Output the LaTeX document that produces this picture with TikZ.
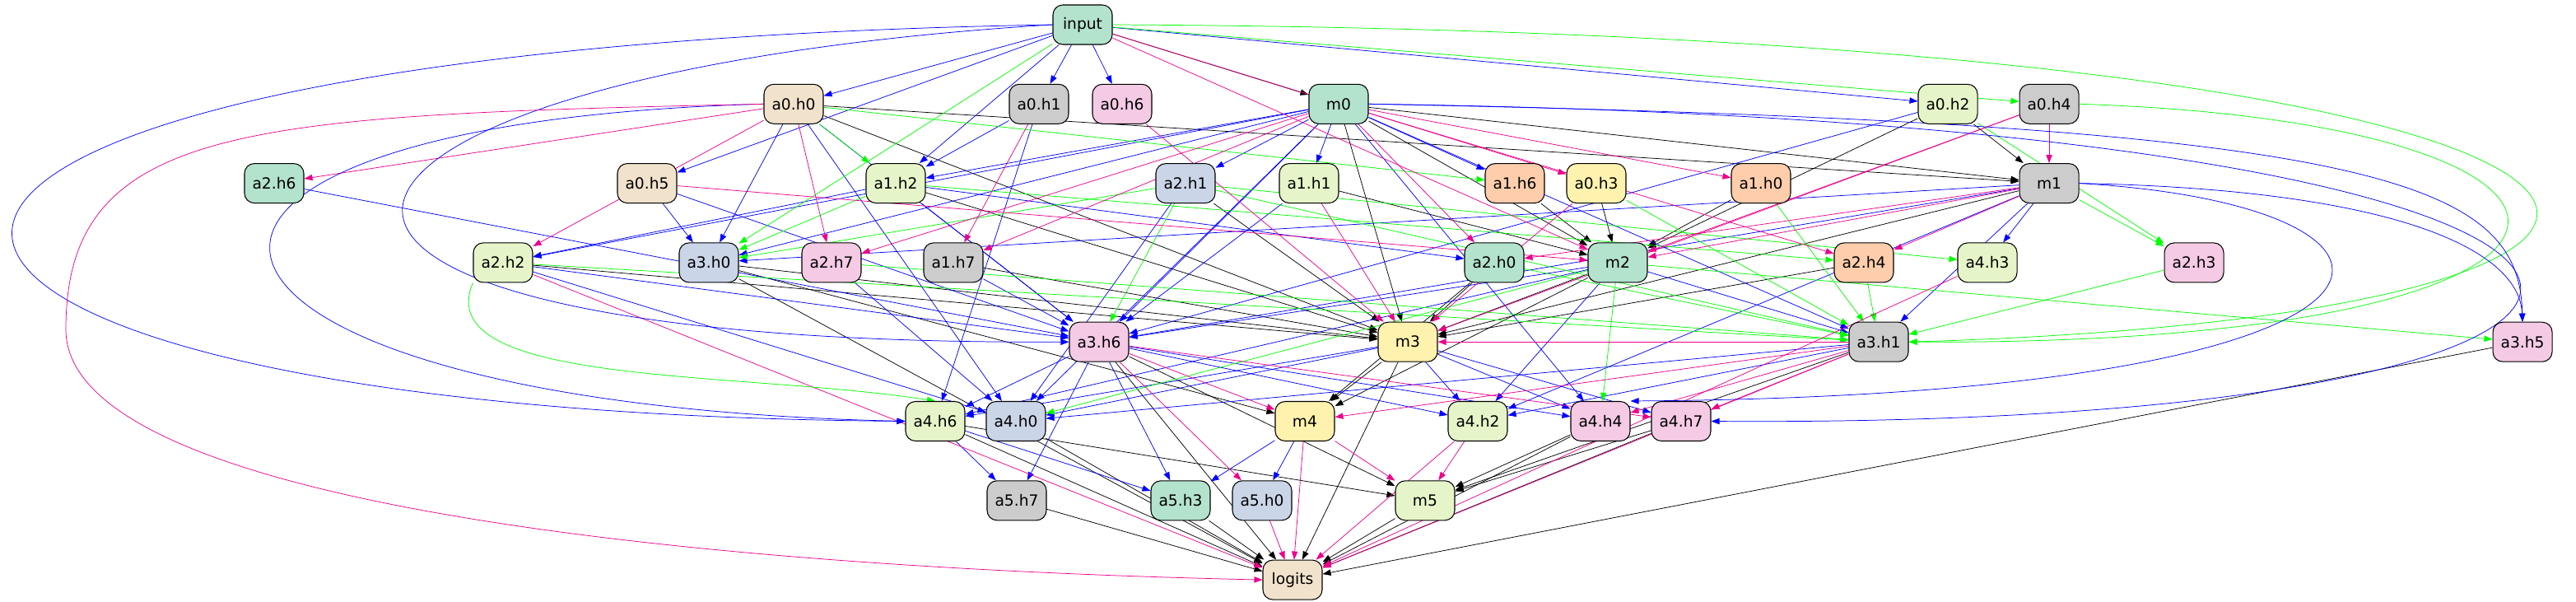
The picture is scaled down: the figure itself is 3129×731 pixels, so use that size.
\documentclass[tikz,border=0pt]{standalone}
\usepackage{fontspec}
\setmainfont{DejaVu Sans}
\usepackage{tikz}
\usetikzlibrary{arrows.meta}

\definecolor{pmint}{HTML}{B3E2CD}
\definecolor{porange}{HTML}{FDCDAC}
\definecolor{pblue}{HTML}{CBD5E8}
\definecolor{ppink}{HTML}{F4CAE4}
\definecolor{plime}{HTML}{E6F5C9}
\definecolor{pyellow}{HTML}{FFF2AE}
\definecolor{psand}{HTML}{F1E2CC}
\definecolor{pgrey}{HTML}{CCCCCC}

\pgfdeclarelayer{wires}
\pgfsetlayers{wires,main}

\begin{document}
\begin{tikzpicture}[x=0.75pt, y=-0.75pt, >={Triangle[length=7.5pt,width=5.5pt]},
        box/.style={draw, line width=0.8pt, rounded corners=9pt, minimum width=54pt,
            minimum height=36pt, inner sep=0pt, font=\fontsize{14}{16}\selectfont},
        wire/.style={->, line width=0.55pt}]
        \useasboundingbox (0,0) rectangle (3129,731);

        % nodes, rank by rank
        \foreach \nm/\lbl/\xx/\rk/\fc in {
            input/input/1315/0/pmint,
            a0_h0/a0.h0/964/1/psand, a0_h1/a0.h1/1262/1/pgrey, a0_h6/a0.h6/1363/1/ppink,
            m0/m0/1626/1/pmint, a0_h2/a0.h2/2366/1/plime, a0_h4/a0.h4/2489/1/pgrey,
            a2_h6/a2.h6/333/2/pmint, a0_h5/a0.h5/786/2/psand, a1_h2/a1.h2/1088/2/plime,
            a2_h1/a2.h1/1440/2/pblue, a1_h1/a1.h1/1590/2/plime, a1_h6/a1.h6/1840/2/porange,
            a0_h3/a0.h3/1939/2/pyellow, a1_h0/a1.h0/2139/2/porange, m1/m1/2489/2/pgrey,
            a2_h2/a2.h2/611/3/plime, a3_h0/a3.h0/861/3/pblue, a2_h7/a2.h7/1010/3/ppink,
            a1_h7/a1.h7/1158/3/pgrey, a2_h0/a2.h0/1815/3/pmint, m2/m2/1965/3/pmint,
            a2_h4/a2.h4/2264/3/porange, a4_h3/a4.h3/2414/3/plime, a2_h3/a2.h3/2665/3/ppink,
            a3_h6/a3.h6/1335/4/ppink, m3/m3/1710/4/pyellow, a3_h1/a3.h1/2282/4/pgrey,
            a3_h5/a3.h5/3064/4/ppink,
            a4_h6/a4.h6/1136/5/plime, a4_h0/a4.h0/1234/5/pblue, m4/m4/1585/5/pyellow,
            a4_h2/a4.h2/1795/5/plime, a4_h4/a4.h4/1944/5/ppink, a4_h7/a4.h7/2042/5/ppink,
            a5_h7/a5.h7/1235/6/pgrey, a5_h3/a5.h3/1434/6/pmint, a5_h0/a5.h0/1533/6/pblue,
            m5/m5/1731/6/plime,
            logits/logits/1570/7/psand}{
            \node[box, fill=\fc] (\nm) at (\xx, {30+96.3*\rk}) {\lbl};
        }

        \begin{pgfonlayer}{wires}
        % black edges
        \foreach \src/\dst in {input/m0, a0_h0/m1, m0/m1, a0_h2/m1,
            a1_h1/m2, m0/m2, a1_h6/m2, a0_h3/m2, a1_h0/m2, a0_h2/m2,
            a3_h0/m3, a2_h2/m3, a1_h7/m3, a1_h2/m3, a2_h1/m3, m0/m3, a2_h0/m3,
            m2/m3, a2_h4/m3, m1/m3, a0_h0/m3,
            a3_h0/m4, m3/m4, m2/m4, a2_h0/m4,
            a3_h6/m5, a4_h6/m5, a4_h4/m5, a4_h7/m5, a3_h1/m5,
            a3_h6/logits, m3/logits, m5/logits, a4_h6/logits, a4_h0/logits,
            a5_h7/logits, a5_h3/logits, a3_h0/logits, a4_h4/logits, a4_h7/logits,
            a3_h5/logits}{
            \draw[wire, black] (\src) to (\dst);
        }

        % blue edges
        \foreach \src/\dst in {input/a0_h0, input/a0_h1, input/a0_h6, input/a0_h2,
            input/a0_h5, input/a1_h2,
            m0/a1_h1, m0/a2_h1, m0/a1_h6, m0/a1_h2, m0/a2_h2, m0/a3_h0, m0/a3_h6,
            m0/a4_h0, m0/a3_h1, m0/a4_h4,
            a0_h1/a1_h2, a0_h1/a4_h6, a0_h0/a3_h0, a0_h0/a3_h6, a0_h0/a4_h0,
            a0_h2/a3_h6, a0_h5/a3_h0, a0_h5/a3_h6,
            a1_h2/a2_h2, a1_h2/a2_h0, a1_h2/a3_h6, a2_h6/a3_h6, a2_h1/a4_h0,
            a1_h1/a3_h6, a2_h2/a3_h6, a2_h2/a4_h0, a2_h7/a4_h0, a1_h7/a3_h6,
            m1/a4_h3, m1/a3_h0, m1/a3_h6, m1/a3_h1, m1/a4_h2,
            m2/a3_h6, m2/a3_h1, m2/a4_h2, m2/a4_h6,
            a3_h6/a4_h6, a3_h6/a5_h7, a3_h6/a5_h3, a3_h6/a4_h2, a3_h6/a4_h4,
            m3/a4_h6, m3/a4_h0, m3/a4_h2, m3/a4_h4, m3/a4_h7,
            a3_h1/a4_h0, a3_h1/a4_h2, a4_h6/a5_h7, a4_h6/a5_h3,
            m4/a5_h3, m4/a5_h0}{
            \draw[wire, blue] (\src) to (\dst);
        }

        % green edges
        \foreach \src/\dst in {input/a0_h4, input/a3_h0, a0_h0/a1_h2, a0_h0/a1_h6,
            a1_h2/a3_h0, a1_h2/a2_h4, a2_h1/a3_h0, a2_h1/a3_h6, a2_h1/a3_h1,
            a2_h1/a4_h3, m1/a2_h3, a0_h2/a2_h3,
            a1_h0/a3_h1, a2_h4/a3_h1, a0_h3/a3_h1, a2_h0/a3_h1, a2_h2/a3_h1,
            a2_h7/a3_h1, a2_h3/a3_h1, m2/a3_h5, m2/a4_h4, m2/a4_h0}{
            \draw[wire, green] (\src) to (\dst);
        }

        % magenta edges
        \foreach \src/\dst in {input/a0_h3, input/m2,
            a0_h0/a2_h6, a0_h0/a2_h2, a0_h0/a2_h7,
            m0/a1_h0, m0/a2_h0, m0/a2_h7, m0/a1_h7, m0/a2_h4, a0_h1/a1_h7,
            a0_h4/m1, a0_h4/m2, a0_h4/m3, a0_h5/m2, a0_h6/m3, a1_h1/m3, a0_h3/m3,
            m1/a2_h4, m1/m2, m1/a2_h0,
            a3_h1/m3, a3_h1/m4, a3_h1/a4_h4, a3_h1/a4_h7, a3_h1/logits,
            a3_h6/m4, a3_h6/a5_h0, a3_h6/a4_h7,
            m4/m5, m4/logits, a4_h2/m5, a4_h2/logits, a5_h0/logits,
            a2_h2/logits, a4_h3/logits}{
            \draw[wire, magenta] (\src) to (\dst);
        }

        % the long ways round
        \draw[wire, blue] (input.west) .. controls (-420,60) and (-330,500) .. (a4_h6.west);
        \draw[wire, blue] (a0_h0.west) .. controls (60,150) and (150,490) .. (a4_h6.west);
        \draw[wire, blue] (input.west) .. controls (300,90) and (150,420) .. (a3_h6.west);
        \draw[wire, magenta] (a0_h0.west) .. controls (300,140) and (80,150) .. (80,400)
            .. controls (80,620) and (900,690) .. (logits.west);
        \draw[wire, green] (a2_h2.south west) .. controls (520,470) and (900,450) .. (a4_h6.north);
        \draw[wire, green] (input.east) .. controls (3400,40) and (3500,380) .. (a3_h1.east);
        \draw[wire, green] (a0_h4.east) .. controls (3250,150) and (3250,420) .. (a3_h1.east);
        \draw[wire, blue] (m0.east) .. controls (3450,150) and (3450,520) .. (a4_h7.east);
        \draw[wire, blue] (m0.east) .. controls (2900,150) and (3060,220) .. (a3_h5.north);
        \draw[wire, blue] (m1.east) .. controls (2900,230) and (3060,300) .. (a3_h5.north);
        \draw[wire, blue] (m1.east) .. controls (3000,250) and (3000,480) .. (a4_h4.north east);
        \end{pgfonlayer}
    \end{tikzpicture}
\end{document}
